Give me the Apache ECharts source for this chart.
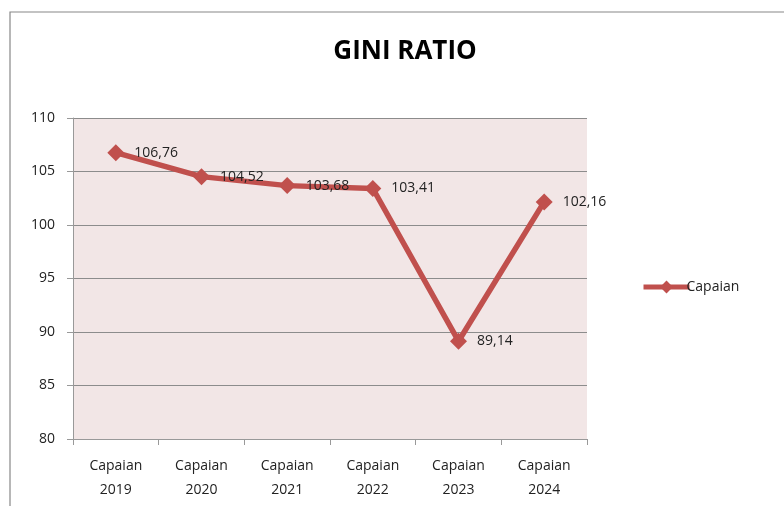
<!DOCTYPE html>
<html><head><meta charset="utf-8">
<script src="https://cdn.jsdelivr.net/npm/echarts@6/dist/echarts.min.js"></script>
<style>html,body{margin:0;padding:0;background:#fff}#c{width:784px;height:506px}</style>
</head><body><div id="c"></div>
<script>
const categories = ['Capaian\n2019','Capaian\n2020','Capaian\n2021','Capaian\n2022','Capaian\n2023','Capaian\n2024'];
const values = [106.76, 104.52, 103.68, 103.41, 89.14, 102.16];
const valueLabels = ['106,76','104,52','103,68','103,41','89,14','102,16'];
const seriesName = 'Capaian';
const titleText = 'GINI RATIO';
const FONT = '"Open Sans", sans-serif';
const chart = echarts.init(document.getElementById('c'), null, {renderer:'canvas'});
chart.setOption({
  animation:false,
  backgroundColor:'#fff',
  graphic:[{type:'rect',shape:{x:10,y:12,width:800,height:520},style:{fill:'none',stroke:'#888',lineWidth:1.2},z:-10}],
  title:{text:titleText,left:400,top:34,textAlign:'center',textStyle:{fontFamily:FONT,fontSize:26,fontWeight:'bold',color:'#000'}},
  legend:{left:636,top:275,itemWidth:46,itemHeight:16,itemGap:0,data:[seriesName],
    lineStyle:{width:5,color:'#C0504D'},itemStyle:{color:'#C0504D'},
    textStyle:{fontFamily:FONT,fontSize:14,color:'#222',padding:[0,0,0,-8]}},
  grid:{left:73,top:118,width:514,height:321,show:true,backgroundColor:'#F2E6E6',borderWidth:0},
  xAxis:{type:'category',data:categories,boundaryGap:true,
    axisLine:{lineStyle:{color:'#999',width:1}},
    axisTick:{show:true,length:6,lineStyle:{color:'#999'}},
    axisLabel:{fontFamily:FONT,fontSize:14,color:'#222',lineHeight:24,margin:15}},
  yAxis:{type:'value',min:80,max:110,interval:5,
    axisLine:{show:true,lineStyle:{color:'#999'}},
    axisTick:{show:true,length:6,lineStyle:{color:'#999'}},
    splitLine:{lineStyle:{color:'#8c8c8c',width:1}},
    axisLabel:{fontFamily:FONT,fontSize:14,color:'#222',margin:18}},
  series:[{name:seriesName,type:'line',data:values,symbol:'diamond',symbolSize:17,
    lineStyle:{color:'#C0504D',width:5.5},itemStyle:{color:'#C0504D'},
    label:{show:true,position:'right',distance:10,fontFamily:FONT,fontSize:14,color:'#222',
      formatter:p=>valueLabels[p.dataIndex]}}]
});
</script></body></html>
